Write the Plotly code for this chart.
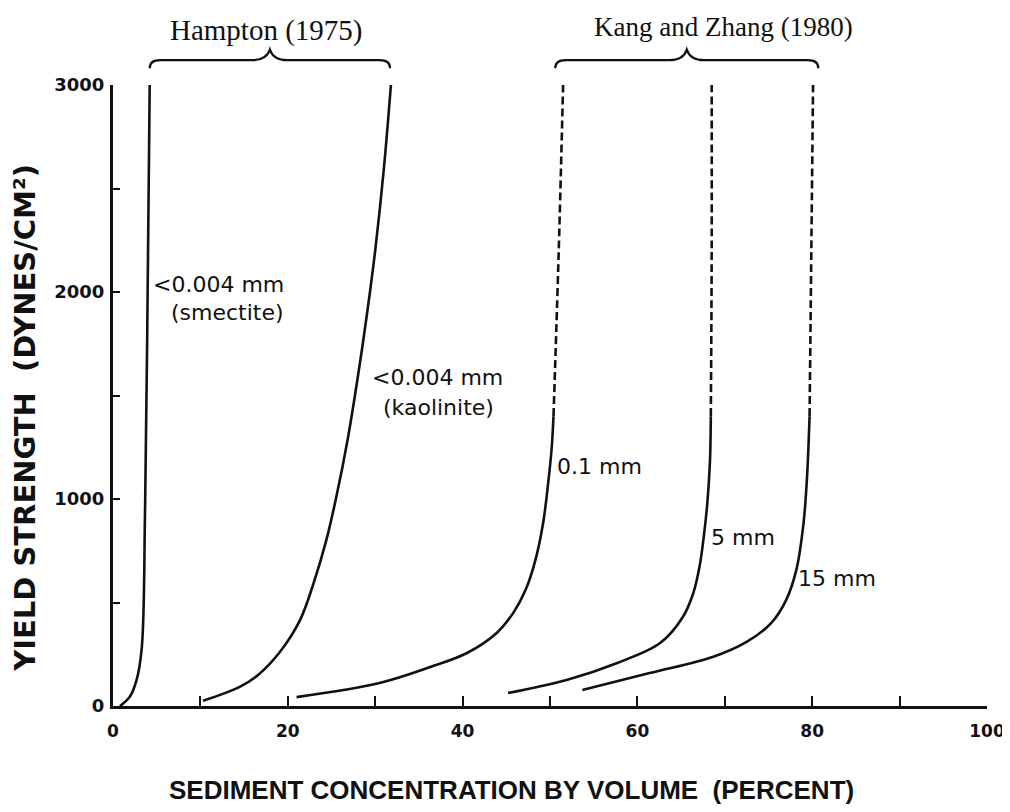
import plotly.graph_objects as go

# ---------------- data ----------------
# Hampton (1975)
smectite_x = [0.8, 1.9, 2.7, 3.3, 3.66, 3.9, 4.2]
smectite_y = [0, 43, 126, 285, 932, 1734, 3000]

kaolinite_x = [10.3, 14.5, 16.6, 19.0, 21.4, 23.0, 24.4, 25.5, 26.9, 28.3, 29.4, 30.0, 31.0, 31.8]
kaolinite_y = [25, 92, 150, 256, 415, 600, 800, 1000, 1300, 1670, 2000, 2200, 2600, 3000]

# Kang and Zhang (1980): solid part and dashed (extrapolated) part
mm01_x = [21.0, 30.5, 36.3, 40.5, 43.9, 45.8, 47.2, 48.3, 49.2, 49.8, 50.2, 50.4]
mm01_y = [43, 111, 188, 256, 353, 450, 560, 700, 880, 1080, 1250, 1400]
mm01_dash_x = [50.4, 51.0, 51.5]
mm01_dash_y = [1400, 2200, 3000]

mm5_x = [45.2, 51.9, 57.7, 62.6, 65.2, 66.4, 67.1, 67.6, 68.0, 68.3, 68.4]
mm5_y = [63, 126, 208, 304, 430, 546, 671, 820, 980, 1180, 1400]
mm5_dash_x = [68.4, 68.5, 68.5]
mm5_dash_y = [1400, 2200, 3000]

mm15_x = [53.7, 61.4, 68.6, 72.5, 75.3, 77.0, 78.2, 79.0, 79.4, 79.7]
mm15_y = [77, 159, 237, 310, 400, 510, 660, 880, 1100, 1400]
mm15_dash_x = [79.7, 79.9, 80.1]
mm15_dash_y = [1400, 2200, 3000]

x_ticks = [0, 10, 20, 30, 40, 50, 60, 70, 80, 90, 100]
x_labels = ["0", "", "20", "", "40", "", "60", "", "80", "", "100"]
y_ticks = [0, 500, 1000, 1500, 2000, 2500, 3000]
y_labels = ["0", "", "1000", "", "2000", "", "3000"]

# curve labels: (text, x, y)
curve_labels = [
    ("&lt;0.004 mm", 4.4, 2034),
    ("(smectite)", 6.4, 1899),
    ("&lt;0.004 mm", 29.4, 1589),
    ("(kaolinite)", 30.7, 1444),
    ("0.1 mm", 50.6, 1159),
    ("5 mm", 68.2, 812),
    ("15 mm", 78.2, 618),
]

INK = "#111111"
LW = 2.6

fig = go.Figure()


def add_line(xs, ys, dash="solid"):
    fig.add_trace(go.Scatter(
        x=xs, y=ys, mode="lines",
        line=dict(color=INK, width=LW, dash=dash, shape="spline", smoothing=1.0),
        showlegend=False, hoverinfo="skip", cliponaxis=False,
    ))


add_line(smectite_x, smectite_y)
add_line(kaolinite_x, kaolinite_y)
add_line(mm01_x, mm01_y)
add_line(mm01_dash_x, mm01_dash_y, "8px,4px")
add_line(mm5_x, mm5_y)
add_line(mm5_dash_x, mm5_dash_y, "8px,4px")
add_line(mm15_x, mm15_y)
add_line(mm15_dash_x, mm15_dash_y, "8px,4px")

label_font = dict(family="DejaVu Sans, Verdana, sans-serif", size=22, color=INK)
annotations = []
for txt, lx, ly in curve_labels:
    annotations.append(dict(
        text=txt, x=lx, y=ly, xref="x", yref="y", xanchor="left", yanchor="middle",
        showarrow=False, font=label_font,
    ))

# group titles with braces
groups = [
    ("Hampton (1975)", smectite_x[-1], kaolinite_x[-1] - 0.1, 1.088, 17.6, 29),
    ("Kang and Zhang (1980)", mm01_dash_x[-1] - 0.9, mm15_dash_x[-1] + 0.6, 1.0934, 69.9, 27),
]
shapes = []
for title, x0, x1, ty, tx, fs in groups:
    xm = (x0 + x1) / 2
    annotations.append(dict(
        text=title, x=tx, y=ty, xref="x", yref="paper", xanchor="center", yanchor="middle",
        showarrow=False,
        font=dict(family="Liberation Serif, Times New Roman, serif", size=fs, color=INK),
    ))
    yl, yb, yp = 1.040, 1.027, 1.057
    path = (f"M {x0},{yb} Q {x0},{yl} {x0 + 1.2},{yl} "
            f"L {xm - 2.0},{yl} Q {xm - 0.4},{yl} {xm},{yp} "
            f"Q {xm + 0.4},{yl} {xm + 2.0},{yl} "
            f"L {x1 - 1.2},{yl} Q {x1},{yl} {x1},{yb}")
    shapes.append(dict(type="path", path=path, xref="x", yref="paper",
                       line=dict(color=INK, width=2.2)))

# axis titles
annotations.append(dict(
    text="SEDIMENT CONCENTRATION BY VOLUME  (PERCENT)",
    x=0.4565, y=-0.135, xref="paper", yref="paper", xanchor="center", yanchor="middle",
    showarrow=False,
    font=dict(family="Liberation Sans, Arial, sans-serif", size=26, color=INK, weight="bold"),
))
annotations.append(dict(
    text="YIELD STRENGTH  (DYNES/CM²)",
    x=-0.1007, y=0.464, xref="paper", yref="paper", xanchor="center", yanchor="middle",
    textangle=-90, showarrow=False,
    font=dict(family="DejaVu Sans, Verdana, sans-serif", size=29, color=INK, weight="bold"),
))

ytick_font = dict(family="DejaVu Sans, Verdana, sans-serif", size=18, color=INK, weight="bold")
xtick_font = dict(family="DejaVu Sans, Verdana, sans-serif", size=17, color=INK, weight="bold")

fig.update_layout(
    width=1010, height=812,
    margin=dict(l=105, r=31, t=77, b=114),
    paper_bgcolor="white", plot_bgcolor="white",
    annotations=annotations, shapes=shapes,
    xaxis=dict(range=[0, 100], tickvals=x_ticks, ticktext=x_labels,
               ticks="inside", ticklen=10, tickwidth=2, tickcolor=INK,
               showline=True, linecolor=INK, linewidth=3, showgrid=False, zeroline=False,
               tickfont=xtick_font, ticklabelstandoff=8),
    yaxis=dict(range=[0, 3000], tickvals=y_ticks, ticktext=y_labels,
               ticks="inside", ticklen=7, tickwidth=2, tickcolor=INK,
               showline=True, linecolor=INK, linewidth=3, showgrid=False, zeroline=False,
               tickfont=ytick_font, ticklabelstandoff=2),
)

fig.write_html("out.html")
